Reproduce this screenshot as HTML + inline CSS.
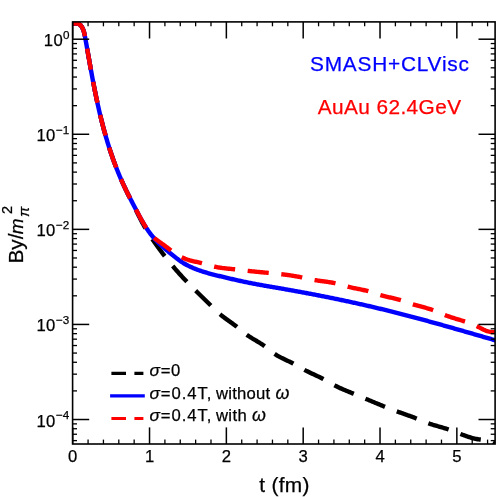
<!DOCTYPE html>
<html><head><meta charset="utf-8"><title>By</title>
<style>
html,body{margin:0;padding:0;background:#fff;}
svg{display:block;will-change:transform;}
text{font-family:"Liberation Sans",sans-serif;fill:#000;stroke:#000;stroke-width:0.25px;}
.tk{font-size:16.67px;}
.sp{font-size:11.67px;}
.ax{font-size:20.83px;}
.lg{font-size:16.67px;}
.mj{stroke:#000;stroke-width:1.5;}
.mn{stroke:#000;stroke-width:1.3;}
.cv{fill:none;stroke-width:4.4;stroke-linejoin:round;stroke-dashoffset:0.6;}
</style></head><body>
<svg width="498" height="497" viewBox="0 0 498 497">
<rect x="0" y="0" width="498" height="497" fill="#fff"/>
<defs><clipPath id="c"><rect x="72.6" y="21.9" width="422.5" height="422.1"/></clipPath></defs>
<g clip-path="url(#c)">
<path class="cv" stroke="#000" stroke-dasharray="21.2 12.6" d="M72.48,23.82 L73.49,23.60 L74.53,23.46 L75.58,23.42 L76.63,23.48 L77.63,23.66 L78.58,23.95 L79.46,24.37 L80.23,24.93 L80.91,25.61 L81.50,26.37 L82.02,27.20 L82.48,28.07 L82.90,28.96 L83.27,29.87 L83.60,30.80 L83.89,31.74 L84.16,32.69 L84.39,33.65 L84.61,34.63 L84.81,35.61 L85.00,36.59 L85.18,37.58 L85.36,38.56 L85.54,39.55 L85.71,40.54 L85.89,41.53 L86.06,42.51 L86.24,43.50 L86.41,44.48 L86.59,45.47 L86.76,46.45 L86.94,47.44 L87.11,48.42 L87.29,49.41 L87.46,50.39 L87.63,51.38 L87.81,52.36 L87.98,53.34 L88.15,54.33 L88.33,55.31 L88.50,56.29 L88.67,57.27 L88.85,58.25 L89.02,59.24 L89.20,60.22 L89.37,61.20 L89.54,62.18 L89.72,63.16 L89.89,64.14 L90.07,65.12 L90.25,66.10 L90.42,67.08 L90.60,68.06 L90.78,69.04 L90.95,70.02 L91.13,71.00 L91.31,71.97 L91.49,72.95 L91.67,73.93 L91.85,74.91 L92.03,75.89 L92.21,76.86 L92.39,77.84 L92.58,78.82 L92.76,79.79 L92.95,80.77 L93.13,81.75 L93.32,82.72 L93.50,83.70 L93.69,84.68 L93.88,85.65 L94.07,86.63 L94.26,87.60 L94.46,88.58 L94.65,89.55 L94.84,90.53 L95.04,91.50 L95.24,92.48 L95.43,93.45 L95.63,94.43 L95.83,95.40 L96.04,96.38 L96.24,97.35 L96.44,98.32 L96.65,99.30 L96.86,100.27 L97.06,101.25 L97.28,102.22 L97.49,103.19 L97.70,104.17 L97.91,105.14 L98.13,106.11 L98.35,107.08 L98.57,108.06 L98.79,109.03 L99.01,110.00 L99.24,110.97 L99.46,111.94 L99.69,112.92 L99.92,113.89 L100.15,114.86 L100.38,115.83 L100.62,116.80 L100.85,117.77 L101.09,118.74 L101.33,119.70 L101.57,120.67 L101.82,121.64 L102.06,122.61 L102.31,123.57 L102.56,124.54 L102.81,125.51 L103.07,126.47 L103.32,127.44 L103.58,128.40 L103.84,129.36 L104.10,130.33 L104.36,131.29 L104.63,132.25 L104.90,133.21 L105.17,134.17 L105.44,135.13 L105.71,136.09 L105.99,137.05 L106.27,138.01 L106.55,138.97 L106.83,139.92 L107.12,140.88 L107.40,141.84 L107.69,142.79 L107.99,143.74 L108.28,144.70 L108.58,145.65 L108.88,146.60 L109.18,147.55 L109.48,148.50 L109.79,149.45 L110.10,150.39 L110.41,151.34 L110.73,152.29 L111.04,153.23 L111.36,154.18 L111.68,155.12 L112.01,156.06 L112.33,157.00 L112.66,157.94 L113.00,158.88 L113.33,159.82 L113.67,160.75 L114.01,161.69 L114.35,162.62 L114.70,163.56 L115.05,164.49 L115.40,165.42 L115.75,166.35 L116.11,167.28 L116.47,168.21 L116.83,169.13 L117.20,170.06 L117.57,170.98 L117.94,171.91 L118.31,172.83 L118.69,173.75 L119.07,174.67 L119.45,175.58 L119.84,176.50 L120.23,177.41 L120.62,178.33 L121.02,179.24 L121.42,180.15 L121.82,181.06 L122.22,181.97 L122.63,182.87 L123.04,183.78 L123.46,184.68 L123.88,185.58 L124.30,186.49 L124.72,187.38 L125.15,188.28 L125.58,189.18 L126.01,190.08 L126.44,190.97 L126.88,191.86 L127.32,192.76 L127.76,193.65 L128.21,194.54 L128.65,195.43 L129.10,196.32 L129.55,197.21 L130.00,198.10 L130.46,198.98 L130.91,199.87 L131.37,200.76 L131.83,201.64 L132.29,202.53 L132.75,203.42 L133.21,204.30 L133.67,205.19 L134.14,206.07 L134.60,206.96 L135.06,207.85 L135.53,208.73 L136.00,209.62 L136.24,210.60 L136.71,211.57 L137.18,212.54 L137.65,213.51 L138.12,214.48 L138.60,215.44 L139.08,216.40 L139.56,217.37 L140.04,218.33 L140.53,219.28 L141.03,220.24 L141.53,221.19 L142.03,222.14 L142.54,223.08 L143.05,224.02 L143.57,224.96 L144.10,225.90 L144.63,226.83 L145.17,227.76 L145.72,228.68 L146.27,229.60 L146.83,230.51 L147.39,231.43 L147.96,232.34 L148.53,233.24 L149.11,234.15 L149.69,235.05 L150.27,235.95 L150.86,236.85 L151.46,237.74 L152.06,238.63 L152.66,239.52 L153.26,240.41 L153.87,241.30 L154.48,242.18 L155.09,243.06 L155.71,243.95 L156.33,244.82 L156.95,245.70 L157.58,246.58 L158.20,247.45 L158.84,248.32 L159.47,249.19 L160.11,250.06 L160.75,250.92 L161.39,251.78 L162.04,252.64 L162.69,253.50 L163.34,254.36 L164.00,255.21 L164.66,256.06 L165.32,256.91 L165.98,257.76 L166.65,258.61 L167.32,259.45 L168.00,260.29 L168.67,261.13 L169.35,261.97 L170.03,262.80 L170.72,263.63 L171.40,264.46 L172.09,265.29 L172.78,266.11 L173.48,266.94 L174.18,267.76 L174.88,268.57 L175.58,269.39 L176.29,270.20 L177.00,271.01 L177.71,271.82 L178.42,272.63 L179.14,273.43 L179.86,274.23 L180.58,275.03 L181.30,275.82 L182.03,276.62 L182.76,277.41 L183.49,278.19 L184.22,278.98 L184.96,279.76 L185.70,280.54 L186.44,281.32 L187.18,282.09 L187.93,282.87 L188.68,283.64 L189.43,284.40 L190.18,285.17 L190.94,285.93 L191.69,286.69 L192.45,287.45 L193.21,288.21 L193.97,288.97 L194.73,289.72 L195.50,290.48 L196.26,291.23 L197.02,291.99 L197.79,292.74 L198.56,293.49 L199.32,294.24 L200.09,294.99 L200.86,295.74 L201.63,296.49 L202.40,297.24 L203.17,298.00 L203.93,298.75 L204.70,299.50 L205.47,300.25 L206.24,301.01 L207.01,301.76 L207.77,302.52 L208.54,303.27 L209.30,304.03 L210.07,304.79 L210.83,305.56 L211.59,306.32 L212.35,307.08 L213.12,307.84 L213.88,308.60 L214.65,309.35 L215.43,310.10 L216.21,310.85 L216.99,311.58 L217.78,312.31 L218.58,313.03 L219.39,313.73 L220.21,314.42 L221.04,315.10 L221.88,315.77 L222.73,316.43 L223.58,317.09 L224.44,317.73 L225.30,318.37 L226.17,319.00 L227.04,319.63 L227.92,320.25 L228.79,320.88 L229.67,321.50 L230.54,322.12 L231.42,322.75 L232.29,323.38 L233.16,324.01 L234.03,324.65 L234.89,325.30 L235.74,325.95 L236.59,326.61 L237.43,327.29 L238.26,327.97 L239.09,328.65 L239.92,329.34 L240.75,330.03 L241.57,330.72 L242.40,331.41 L243.24,332.09 L244.07,332.77 L244.92,333.43 L245.77,334.08 L246.64,334.72 L247.51,335.34 L248.40,335.94 L249.29,336.53 L250.20,337.11 L251.11,337.68 L252.02,338.25 L252.94,338.80 L253.87,339.36 L254.79,339.90 L255.72,340.45 L256.65,341.00 L257.57,341.55 L258.50,342.11 L259.42,342.67 L260.33,343.24 L261.24,343.82 L262.14,344.41 L263.03,345.01 L263.91,345.62 L264.78,346.26 L265.64,346.91 L266.49,347.57 L267.34,348.23 L268.18,348.91 L269.01,349.59 L269.85,350.26 L270.69,350.94 L271.54,351.60 L272.39,352.26 L273.25,352.90 L274.12,353.53 L275.00,354.13 L275.90,354.72 L276.81,355.28 L277.73,355.82 L278.66,356.35 L279.60,356.87 L280.55,357.37 L281.51,357.86 L282.47,358.34 L283.44,358.81 L284.41,359.28 L285.38,359.74 L286.36,360.21 L287.34,360.67 L288.31,361.13 L289.29,361.60 L290.26,362.07 L291.23,362.55 L292.19,363.03 L293.14,363.53 L294.09,364.04 L295.04,364.56 L295.97,365.09 L296.91,365.62 L297.84,366.15 L298.77,366.69 L299.70,367.23 L300.64,367.77 L301.57,368.30 L302.51,368.82 L303.45,369.34 L304.39,369.85 L305.34,370.35 L306.30,370.84 L307.26,371.32 L308.22,371.80 L309.19,372.26 L310.16,372.73 L311.14,373.19 L312.11,373.64 L313.08,374.10 L314.06,374.55 L315.04,375.00 L316.01,375.46 L316.98,375.92 L317.96,376.38 L318.92,376.85 L319.89,377.32 L320.85,377.80 L321.81,378.29 L322.76,378.79 L323.71,379.30 L324.65,379.82 L325.59,380.34 L326.53,380.87 L327.47,381.40 L328.40,381.94 L329.33,382.47 L330.27,383.01 L331.20,383.53 L332.14,384.06 L333.08,384.58 L334.03,385.08 L334.98,385.58 L335.94,386.07 L336.90,386.55 L337.87,387.02 L338.84,387.48 L339.81,387.93 L340.79,388.37 L341.77,388.81 L342.75,389.24 L343.74,389.67 L344.73,390.09 L345.72,390.51 L346.72,390.92 L347.71,391.33 L348.71,391.74 L349.70,392.15 L350.70,392.56 L351.70,392.96 L352.69,393.37 L353.69,393.78 L354.69,394.19 L355.68,394.60 L356.68,395.01 L357.67,395.42 L358.66,395.83 L359.66,396.25 L360.65,396.66 L361.64,397.08 L362.63,397.49 L363.63,397.91 L364.62,398.33 L365.61,398.75 L366.60,399.16 L367.59,399.58 L368.58,400.00 L369.57,400.42 L370.56,400.83 L371.56,401.25 L372.55,401.67 L373.54,402.08 L374.53,402.50 L375.52,402.91 L376.51,403.33 L377.51,403.74 L378.50,404.15 L379.49,404.56 L380.49,404.97 L381.48,405.38 L382.48,405.78 L383.47,406.19 L384.47,406.59 L385.46,406.99 L386.46,407.39 L387.46,407.78 L388.46,408.17 L389.46,408.57 L390.46,408.95 L391.47,409.34 L392.47,409.72 L393.47,410.10 L394.48,410.48 L395.49,410.86 L396.49,411.23 L397.50,411.59 L398.51,411.96 L399.53,412.32 L400.54,412.68 L401.55,413.04 L402.57,413.40 L403.58,413.76 L404.59,414.12 L405.61,414.48 L406.62,414.84 L407.63,415.20 L408.64,415.56 L409.65,415.93 L410.66,416.30 L411.67,416.67 L412.68,417.05 L413.68,417.43 L414.69,417.81 L415.69,418.21 L416.69,418.61 L417.68,419.01 L418.68,419.42 L419.67,419.83 L420.67,420.24 L421.66,420.65 L422.65,421.06 L423.65,421.47 L424.65,421.87 L425.65,422.26 L426.65,422.65 L427.66,423.02 L428.67,423.39 L429.68,423.74 L430.70,424.08 L431.72,424.41 L432.75,424.73 L433.77,425.05 L434.80,425.36 L435.84,425.66 L436.87,425.96 L437.90,426.26 L438.94,426.55 L439.97,426.85 L441.01,427.15 L442.04,427.44 L443.07,427.75 L444.10,428.05 L445.13,428.37 L446.16,428.68 L447.19,429.01 L448.21,429.35 L449.22,429.69 L450.24,430.05 L451.25,430.42 L452.26,430.79 L453.26,431.17 L454.27,431.55 L455.27,431.94 L456.27,432.33 L457.27,432.73 L458.28,433.12 L459.28,433.51 L460.28,433.90 L461.28,434.29 L462.28,434.68 L463.29,435.06 L464.30,435.43 L465.31,435.80 L466.32,436.16 L467.34,436.51 L468.35,436.84 L469.38,437.17 L470.41,437.48 L471.44,437.78 L472.48,438.06 L473.52,438.33 L474.57,438.58 L475.62,438.81 L476.68,439.02 L477.75,439.21 L478.83,439.38 L479.91,439.52 L481.01,439.64 L482.11,439.74 L483.21,439.83 L484.31,439.92 L485.41,440.02 L486.51,440.13 L487.59,440.27 L488.66,440.46 L489.72,440.69 L490.75,440.99 L491.76,441.35 L492.74,441.79 L493.70,442.32 L494.62,442.96 L495.50,443.70"/>
<path class="cv" stroke="#0000ff" d="M72.48,23.82 L73.49,23.60 L74.53,23.46 L75.58,23.42 L76.63,23.48 L77.63,23.66 L78.58,23.95 L79.46,24.37 L80.23,24.93 L80.91,25.61 L81.50,26.37 L82.02,27.20 L82.48,28.07 L82.90,28.96 L83.27,29.87 L83.60,30.80 L83.89,31.74 L84.16,32.69 L84.39,33.65 L84.61,34.63 L84.81,35.61 L85.00,36.59 L85.18,37.58 L85.36,38.56 L85.54,39.55 L85.71,40.54 L85.89,41.53 L86.06,42.51 L86.24,43.50 L86.41,44.48 L86.59,45.47 L86.76,46.45 L86.94,47.44 L87.11,48.42 L87.29,49.41 L87.46,50.39 L87.63,51.38 L87.81,52.36 L87.98,53.34 L88.15,54.33 L88.33,55.31 L88.50,56.29 L88.67,57.27 L88.85,58.25 L89.02,59.24 L89.20,60.22 L89.37,61.20 L89.54,62.18 L89.72,63.16 L89.89,64.14 L90.07,65.12 L90.25,66.10 L90.42,67.08 L90.60,68.06 L90.78,69.04 L90.95,70.02 L91.13,71.00 L91.31,71.97 L91.49,72.95 L91.67,73.93 L91.85,74.91 L92.03,75.89 L92.21,76.86 L92.39,77.84 L92.58,78.82 L92.76,79.79 L92.95,80.77 L93.13,81.75 L93.32,82.72 L93.50,83.70 L93.69,84.68 L93.88,85.65 L94.07,86.63 L94.26,87.60 L94.46,88.58 L94.65,89.55 L94.84,90.53 L95.04,91.50 L95.24,92.48 L95.43,93.45 L95.63,94.43 L95.83,95.40 L96.04,96.38 L96.24,97.35 L96.44,98.32 L96.65,99.30 L96.86,100.27 L97.06,101.25 L97.28,102.22 L97.49,103.19 L97.70,104.17 L97.91,105.14 L98.13,106.11 L98.35,107.08 L98.57,108.06 L98.79,109.03 L99.01,110.00 L99.24,110.97 L99.46,111.94 L99.69,112.92 L99.92,113.89 L100.15,114.86 L100.38,115.83 L100.62,116.80 L100.85,117.77 L101.09,118.74 L101.33,119.70 L101.57,120.67 L101.82,121.64 L102.06,122.61 L102.31,123.57 L102.56,124.54 L102.81,125.51 L103.07,126.47 L103.32,127.44 L103.58,128.40 L103.84,129.36 L104.10,130.33 L104.36,131.29 L104.63,132.25 L104.90,133.21 L105.17,134.17 L105.44,135.13 L105.71,136.09 L105.99,137.05 L106.27,138.01 L106.55,138.97 L106.83,139.92 L107.12,140.88 L107.40,141.84 L107.69,142.79 L107.99,143.74 L108.28,144.70 L108.58,145.65 L108.88,146.60 L109.18,147.55 L109.48,148.50 L109.79,149.45 L110.10,150.39 L110.41,151.34 L110.73,152.29 L111.04,153.23 L111.36,154.18 L111.68,155.12 L112.01,156.06 L112.33,157.00 L112.66,157.94 L113.00,158.88 L113.33,159.82 L113.67,160.75 L114.01,161.69 L114.35,162.62 L114.70,163.56 L115.05,164.49 L115.40,165.42 L115.75,166.35 L116.11,167.28 L116.47,168.21 L116.83,169.13 L117.20,170.06 L117.57,170.98 L117.94,171.91 L118.31,172.83 L118.69,173.75 L119.07,174.67 L119.45,175.58 L119.84,176.50 L120.23,177.41 L120.62,178.33 L121.02,179.24 L121.42,180.15 L121.82,181.06 L122.22,181.97 L122.63,182.87 L123.04,183.78 L123.46,184.68 L123.88,185.58 L124.30,186.49 L124.72,187.38 L125.15,188.28 L125.58,189.18 L126.01,190.08 L126.44,190.97 L126.88,191.86 L127.32,192.76 L127.76,193.65 L128.21,194.54 L128.65,195.43 L129.10,196.32 L129.55,197.21 L130.00,198.10 L130.46,198.98 L130.91,199.87 L131.37,200.76 L131.83,201.64 L132.29,202.53 L132.75,203.42 L133.21,204.30 L133.67,205.19 L134.14,206.07 L134.60,206.96 L135.06,207.85 L135.53,208.73 L136.00,209.62 L136.46,210.50 L136.93,211.39 L137.40,212.28 L137.87,213.16 L138.34,214.05 L138.81,214.94 L139.28,215.82 L139.76,216.70 L140.24,217.58 L140.72,218.46 L141.20,219.34 L141.69,220.21 L142.19,221.08 L142.68,221.95 L143.18,222.81 L143.69,223.67 L144.20,224.53 L144.72,225.38 L145.25,226.23 L145.78,227.07 L146.31,227.91 L146.86,228.74 L147.41,229.56 L147.97,230.38 L148.53,231.19 L149.11,232.00 L149.69,232.80 L150.28,233.59 L150.88,234.38 L151.50,235.15 L152.12,235.92 L152.75,236.68 L153.39,237.44 L154.04,238.18 L154.70,238.92 L155.37,239.64 L156.05,240.37 L156.73,241.08 L157.43,241.79 L158.13,242.49 L158.84,243.19 L159.55,243.88 L160.28,244.56 L161.01,245.24 L161.74,245.91 L162.48,246.58 L163.23,247.25 L163.98,247.91 L164.73,248.57 L165.49,249.22 L166.26,249.87 L167.02,250.52 L167.79,251.17 L168.57,251.81 L169.34,252.45 L170.12,253.09 L170.90,253.73 L171.68,254.36 L172.46,255.00 L173.24,255.63 L174.02,256.26 L174.81,256.89 L175.60,257.52 L176.39,258.14 L177.18,258.75 L177.98,259.36 L178.78,259.95 L179.59,260.54 L180.41,261.11 L181.23,261.67 L182.06,262.22 L182.89,262.75 L183.74,263.27 L184.59,263.77 L185.45,264.26 L186.31,264.74 L187.18,265.21 L188.06,265.67 L188.94,266.11 L189.83,266.54 L190.72,266.96 L191.62,267.37 L192.52,267.77 L193.43,268.16 L194.34,268.54 L195.26,268.91 L196.18,269.27 L197.11,269.62 L198.04,269.96 L198.98,270.30 L199.92,270.63 L200.86,270.95 L201.80,271.26 L202.75,271.56 L203.70,271.86 L204.66,272.16 L205.61,272.44 L206.57,272.72 L207.54,273.00 L208.50,273.27 L209.46,273.54 L210.43,273.80 L211.40,274.06 L212.37,274.31 L213.34,274.56 L214.31,274.81 L215.28,275.05 L216.25,275.30 L217.23,275.54 L218.20,275.78 L219.17,276.01 L220.15,276.25 L221.12,276.48 L222.09,276.72 L223.06,276.95 L224.03,277.19 L225.00,277.42 L225.97,277.65 L226.94,277.88 L227.91,278.11 L228.88,278.34 L229.85,278.56 L230.82,278.79 L231.79,279.01 L232.76,279.24 L233.73,279.46 L234.70,279.68 L235.67,279.90 L236.64,280.12 L237.61,280.34 L238.58,280.55 L239.55,280.76 L240.52,280.98 L241.49,281.19 L242.46,281.40 L243.43,281.60 L244.40,281.81 L245.37,282.01 L246.34,282.22 L247.32,282.42 L248.29,282.61 L249.26,282.81 L250.24,283.01 L251.21,283.20 L252.19,283.39 L253.16,283.58 L254.14,283.76 L255.12,283.95 L256.10,284.13 L257.07,284.31 L258.05,284.50 L259.03,284.67 L260.01,284.85 L260.99,285.03 L261.97,285.21 L262.95,285.38 L263.93,285.55 L264.92,285.73 L265.90,285.90 L266.88,286.07 L267.86,286.24 L268.84,286.41 L269.83,286.58 L270.81,286.75 L271.79,286.92 L272.78,287.09 L273.76,287.26 L274.74,287.42 L275.72,287.59 L276.71,287.76 L277.69,287.93 L278.67,288.10 L279.66,288.27 L280.64,288.44 L281.62,288.61 L282.60,288.78 L283.59,288.95 L284.57,289.12 L285.55,289.30 L286.53,289.47 L287.52,289.64 L288.50,289.82 L289.48,289.99 L290.46,290.16 L291.44,290.34 L292.43,290.52 L293.41,290.69 L294.39,290.87 L295.37,291.05 L296.35,291.22 L297.33,291.40 L298.31,291.58 L299.29,291.76 L300.27,291.94 L301.25,292.12 L302.23,292.30 L303.22,292.48 L304.20,292.67 L305.18,292.85 L306.16,293.03 L307.13,293.22 L308.11,293.40 L309.09,293.59 L310.07,293.77 L311.05,293.96 L312.03,294.14 L313.01,294.33 L313.99,294.52 L314.97,294.71 L315.95,294.90 L316.93,295.09 L317.90,295.28 L318.88,295.47 L319.86,295.66 L320.84,295.85 L321.82,296.04 L322.79,296.24 L323.77,296.43 L324.75,296.62 L325.73,296.82 L326.70,297.01 L327.68,297.21 L328.66,297.41 L329.63,297.60 L330.61,297.80 L331.59,298.00 L332.56,298.20 L333.54,298.40 L334.52,298.60 L335.49,298.80 L336.47,299.00 L337.44,299.20 L338.42,299.41 L339.39,299.61 L340.37,299.81 L341.34,300.02 L342.32,300.22 L343.29,300.43 L344.27,300.64 L345.24,300.84 L346.22,301.05 L347.19,301.26 L348.16,301.47 L349.14,301.68 L350.11,301.89 L351.08,302.10 L352.06,302.31 L353.03,302.53 L354.00,302.74 L354.98,302.95 L355.95,303.17 L356.92,303.38 L357.89,303.60 L358.87,303.82 L359.84,304.03 L360.81,304.25 L361.78,304.47 L362.75,304.69 L363.73,304.91 L364.70,305.13 L365.67,305.35 L366.64,305.57 L367.61,305.80 L368.58,306.02 L369.55,306.24 L370.52,306.47 L371.49,306.70 L372.46,306.92 L373.43,307.15 L374.40,307.38 L375.37,307.61 L376.34,307.83 L377.31,308.06 L378.28,308.30 L379.25,308.53 L380.21,308.76 L381.18,308.99 L382.15,309.23 L383.12,309.46 L384.09,309.69 L385.05,309.93 L386.02,310.17 L386.99,310.40 L387.96,310.64 L388.92,310.88 L389.89,311.12 L390.86,311.36 L391.82,311.60 L392.79,311.84 L393.76,312.09 L394.72,312.33 L395.69,312.58 L396.65,312.82 L397.62,313.07 L398.58,313.31 L399.55,313.56 L400.51,313.81 L401.48,314.05 L402.44,314.30 L403.41,314.55 L404.37,314.80 L405.34,315.05 L406.30,315.31 L407.26,315.56 L408.23,315.81 L409.19,316.06 L410.15,316.32 L411.12,316.57 L412.08,316.83 L413.04,317.08 L414.01,317.34 L414.97,317.60 L415.93,317.85 L416.89,318.11 L417.86,318.37 L418.82,318.63 L419.78,318.89 L420.74,319.15 L421.70,319.41 L422.66,319.67 L423.63,319.93 L424.59,320.19 L425.55,320.46 L426.51,320.72 L427.47,320.98 L428.43,321.25 L429.39,321.51 L430.35,321.78 L431.31,322.04 L432.27,322.31 L433.23,322.57 L434.20,322.84 L435.16,323.11 L436.12,323.37 L437.08,323.64 L438.03,323.91 L438.99,324.18 L439.95,324.45 L440.91,324.71 L441.87,324.98 L442.83,325.25 L443.79,325.52 L444.75,325.79 L445.71,326.06 L446.67,326.33 L447.63,326.61 L448.59,326.88 L449.55,327.15 L450.50,327.42 L451.46,327.69 L452.42,327.97 L453.38,328.24 L454.34,328.51 L455.30,328.78 L456.26,329.06 L457.21,329.33 L458.17,329.61 L459.13,329.88 L460.09,330.15 L461.05,330.43 L462.00,330.70 L462.96,330.98 L463.92,331.25 L464.88,331.53 L465.84,331.80 L466.79,332.08 L467.75,332.35 L468.71,332.63 L469.67,332.90 L470.62,333.18 L471.58,333.46 L472.54,333.73 L473.50,334.01 L474.45,334.28 L475.41,334.56 L476.37,334.83 L477.33,335.11 L478.28,335.39 L479.24,335.66 L480.20,335.94 L481.15,336.22 L482.11,336.49 L483.07,336.77 L484.03,337.04 L484.98,337.32 L485.94,337.60 L486.90,337.87 L487.85,338.15 L488.81,338.42 L489.77,338.70 L490.73,338.98 L491.68,339.25 L492.64,339.53 L493.60,339.80 L494.55,340.08 L495.51,340.35"/>
<path class="cv" stroke="#ff0000" stroke-dasharray="21.2 12.6" d="M72.48,23.82 L73.49,23.60 L74.53,23.46 L75.58,23.42 L76.63,23.48 L77.63,23.66 L78.58,23.95 L79.46,24.37 L80.23,24.93 L80.91,25.61 L81.50,26.37 L82.02,27.20 L82.48,28.07 L82.90,28.96 L83.27,29.87 L83.60,30.80 L83.89,31.74 L84.16,32.69 L84.39,33.65 L84.61,34.63 L84.81,35.61 L85.00,36.59 L85.18,37.58 L85.36,38.56 L85.54,39.55 L85.71,40.54 L85.89,41.53 L86.06,42.51 L86.24,43.50 L86.41,44.48 L86.59,45.47 L86.76,46.45 L86.94,47.44 L87.11,48.42 L87.29,49.41 L87.46,50.39 L87.63,51.38 L87.81,52.36 L87.98,53.34 L88.15,54.33 L88.33,55.31 L88.50,56.29 L88.67,57.27 L88.85,58.25 L89.02,59.24 L89.20,60.22 L89.37,61.20 L89.54,62.18 L89.72,63.16 L89.89,64.14 L90.07,65.12 L90.25,66.10 L90.42,67.08 L90.60,68.06 L90.78,69.04 L90.95,70.02 L91.13,71.00 L91.31,71.97 L91.49,72.95 L91.67,73.93 L91.85,74.91 L92.03,75.89 L92.21,76.86 L92.39,77.84 L92.58,78.82 L92.76,79.79 L92.95,80.77 L93.13,81.75 L93.32,82.72 L93.50,83.70 L93.69,84.68 L93.88,85.65 L94.07,86.63 L94.26,87.60 L94.46,88.58 L94.65,89.55 L94.84,90.53 L95.04,91.50 L95.24,92.48 L95.43,93.45 L95.63,94.43 L95.83,95.40 L96.04,96.38 L96.24,97.35 L96.44,98.32 L96.65,99.30 L96.86,100.27 L97.06,101.25 L97.28,102.22 L97.49,103.19 L97.70,104.17 L97.91,105.14 L98.13,106.11 L98.35,107.08 L98.57,108.06 L98.79,109.03 L99.01,110.00 L99.24,110.97 L99.46,111.94 L99.69,112.92 L99.92,113.89 L100.15,114.86 L100.38,115.83 L100.62,116.80 L100.85,117.77 L101.09,118.74 L101.33,119.70 L101.57,120.67 L101.82,121.64 L102.06,122.61 L102.31,123.57 L102.56,124.54 L102.81,125.51 L103.07,126.47 L103.32,127.44 L103.58,128.40 L103.84,129.36 L104.10,130.33 L104.36,131.29 L104.63,132.25 L104.90,133.21 L105.17,134.17 L105.44,135.13 L105.71,136.09 L105.99,137.05 L106.27,138.01 L106.55,138.97 L106.83,139.92 L107.12,140.88 L107.40,141.84 L107.69,142.79 L107.99,143.74 L108.28,144.70 L108.58,145.65 L108.88,146.60 L109.18,147.55 L109.48,148.50 L109.79,149.45 L110.10,150.39 L110.41,151.34 L110.73,152.29 L111.04,153.23 L111.36,154.18 L111.68,155.12 L112.01,156.06 L112.33,157.00 L112.66,157.94 L113.00,158.88 L113.33,159.82 L113.67,160.75 L114.01,161.69 L114.35,162.62 L114.70,163.56 L115.05,164.49 L115.40,165.42 L115.75,166.35 L116.11,167.28 L116.47,168.21 L116.83,169.13 L117.20,170.06 L117.57,170.98 L117.94,171.91 L118.31,172.83 L118.69,173.75 L119.07,174.67 L119.45,175.58 L119.84,176.50 L120.23,177.41 L120.62,178.33 L121.02,179.24 L121.42,180.15 L121.82,181.06 L122.22,181.97 L122.63,182.87 L123.04,183.78 L123.46,184.68 L123.88,185.58 L124.30,186.49 L124.72,187.38 L125.15,188.28 L125.58,189.18 L126.01,190.08 L126.44,190.97 L126.88,191.86 L127.32,192.76 L127.76,193.65 L128.21,194.54 L128.65,195.43 L129.10,196.32 L129.55,197.21 L130.00,198.10 L130.46,198.98 L130.91,199.87 L131.37,200.76 L131.83,201.64 L132.29,202.53 L132.75,203.42 L133.21,204.30 L133.67,205.19 L134.14,206.07 L134.60,206.96 L135.06,207.85 L135.53,208.73 L136.00,209.62 L136.46,210.50 L136.93,211.39 L137.40,212.28 L137.87,213.16 L138.34,214.05 L138.81,214.94 L139.28,215.82 L139.76,216.70 L140.24,217.58 L140.72,218.46 L141.20,219.34 L141.69,220.21 L142.19,221.08 L142.68,221.95 L143.18,222.81 L143.69,223.67 L144.20,224.53 L144.72,225.38 L145.25,226.23 L145.78,227.07 L146.31,227.91 L146.86,228.74 L147.16,229.47 L147.71,230.30 L148.27,231.13 L148.84,231.94 L149.43,232.73 L150.03,233.52 L150.65,234.28 L151.30,235.03 L151.96,235.75 L152.64,236.46 L153.34,237.14 L154.07,237.80 L154.81,238.44 L155.57,239.06 L156.35,239.67 L157.13,240.26 L157.93,240.84 L158.74,241.42 L159.56,241.98 L160.37,242.55 L161.19,243.12 L162.01,243.69 L162.82,244.26 L163.62,244.85 L164.42,245.44 L165.22,246.04 L166.02,246.64 L166.81,247.24 L167.60,247.85 L168.39,248.45 L169.18,249.06 L169.97,249.66 L170.76,250.26 L171.56,250.85 L172.36,251.44 L173.16,252.02 L173.97,252.59 L174.78,253.15 L175.61,253.70 L176.44,254.23 L177.28,254.75 L178.12,255.26 L178.98,255.75 L179.84,256.23 L180.71,256.69 L181.59,257.14 L182.48,257.57 L183.38,257.98 L184.28,258.38 L185.19,258.76 L186.11,259.12 L187.03,259.46 L187.97,259.78 L188.91,260.08 L189.86,260.37 L190.81,260.63 L191.77,260.88 L192.74,261.11 L193.71,261.33 L194.68,261.54 L195.65,261.75 L196.63,261.96 L197.60,262.17 L198.57,262.38 L199.54,262.61 L200.51,262.84 L201.47,263.09 L202.43,263.34 L203.39,263.61 L204.35,263.88 L205.30,264.15 L206.25,264.43 L207.20,264.71 L208.15,264.98 L209.10,265.26 L210.05,265.53 L211.01,265.79 L211.96,266.05 L212.92,266.29 L213.88,266.52 L214.84,266.74 L215.80,266.95 L216.77,267.14 L217.74,267.32 L218.72,267.49 L219.69,267.64 L220.67,267.79 L221.65,267.93 L222.64,268.06 L223.62,268.18 L224.61,268.30 L225.59,268.41 L226.58,268.51 L227.57,268.62 L228.56,268.72 L229.55,268.81 L230.54,268.91 L231.53,269.01 L232.52,269.10 L233.50,269.20 L234.49,269.30 L235.48,269.41 L236.47,269.52 L237.45,269.63 L238.43,269.74 L239.42,269.85 L240.40,269.97 L241.38,270.09 L242.37,270.21 L243.35,270.33 L244.33,270.44 L245.31,270.56 L246.30,270.68 L247.28,270.79 L248.26,270.90 L249.25,271.01 L250.23,271.12 L251.22,271.23 L252.20,271.33 L253.19,271.43 L254.17,271.53 L255.16,271.63 L256.14,271.73 L257.13,271.83 L258.12,271.92 L259.10,272.02 L260.09,272.11 L261.08,272.20 L262.07,272.30 L263.05,272.39 L264.04,272.48 L265.03,272.57 L266.02,272.66 L267.01,272.76 L267.99,272.85 L268.98,272.94 L269.97,273.04 L270.96,273.13 L271.94,273.23 L272.93,273.33 L273.92,273.43 L274.91,273.53 L275.89,273.63 L276.88,273.73 L277.87,273.84 L278.85,273.94 L279.84,274.05 L280.82,274.16 L281.81,274.28 L282.79,274.39 L283.77,274.51 L284.76,274.64 L285.74,274.76 L286.72,274.89 L287.70,275.02 L288.69,275.16 L289.67,275.30 L290.65,275.44 L291.63,275.58 L292.60,275.73 L293.58,275.89 L294.56,276.05 L295.54,276.21 L296.51,276.38 L297.49,276.55 L298.46,276.73 L299.43,276.91 L300.41,277.10 L301.38,277.29 L302.35,277.49 L303.32,277.69 L304.28,277.90 L305.25,278.11 L306.22,278.32 L307.19,278.54 L308.16,278.75 L309.13,278.96 L310.09,279.16 L311.06,279.37 L312.04,279.56 L313.01,279.75 L313.98,279.94 L314.96,280.11 L315.94,280.27 L316.92,280.43 L317.90,280.57 L318.88,280.72 L319.86,280.85 L320.84,280.99 L321.83,281.12 L322.81,281.25 L323.79,281.38 L324.78,281.51 L325.76,281.64 L326.74,281.77 L327.72,281.91 L328.70,282.06 L329.68,282.21 L330.66,282.37 L331.63,282.54 L332.60,282.72 L333.57,282.91 L334.54,283.12 L335.50,283.34 L336.46,283.57 L337.42,283.81 L338.38,284.07 L339.33,284.33 L340.28,284.60 L341.24,284.87 L342.19,285.15 L343.14,285.43 L344.09,285.70 L345.05,285.97 L346.00,286.24 L346.96,286.50 L347.92,286.75 L348.88,286.98 L349.85,287.21 L350.81,287.43 L351.78,287.65 L352.75,287.85 L353.72,288.05 L354.70,288.25 L355.67,288.44 L356.64,288.63 L357.62,288.83 L358.59,289.02 L359.56,289.21 L360.53,289.41 L361.50,289.61 L362.47,289.81 L363.44,290.02 L364.41,290.24 L365.37,290.47 L366.33,290.71 L367.29,290.95 L368.24,291.21 L369.19,291.49 L370.14,291.77 L371.09,292.06 L372.03,292.37 L372.97,292.67 L373.91,292.99 L374.85,293.30 L375.79,293.62 L376.73,293.93 L377.67,294.24 L378.62,294.54 L379.56,294.83 L380.51,295.12 L381.46,295.39 L382.42,295.65 L383.38,295.91 L384.34,296.15 L385.30,296.39 L386.26,296.62 L387.23,296.84 L388.20,297.07 L389.16,297.29 L390.13,297.51 L391.10,297.72 L392.07,297.94 L393.03,298.16 L394.00,298.39 L394.96,298.61 L395.93,298.85 L396.89,299.09 L397.85,299.34 L398.80,299.59 L399.75,299.86 L400.70,300.14 L401.65,300.43 L402.59,300.73 L403.53,301.04 L404.47,301.37 L405.40,301.69 L406.34,302.02 L407.27,302.36 L408.20,302.69 L409.14,303.03 L410.07,303.35 L411.01,303.68 L411.95,304.00 L412.89,304.30 L413.83,304.60 L414.78,304.89 L415.74,305.17 L416.69,305.44 L417.65,305.70 L418.60,305.96 L419.56,306.22 L420.52,306.47 L421.48,306.72 L422.44,306.97 L423.40,307.22 L424.36,307.48 L425.32,307.73 L426.27,308.00 L427.23,308.26 L428.18,308.54 L429.13,308.82 L430.07,309.11 L431.01,309.42 L431.95,309.73 L432.88,310.06 L433.81,310.40 L434.73,310.75 L435.65,311.12 L436.57,311.50 L437.48,311.88 L438.39,312.27 L439.30,312.66 L440.21,313.06 L441.12,313.45 L442.03,313.84 L442.94,314.23 L443.85,314.61 L444.77,314.98 L445.69,315.34 L446.62,315.69 L447.55,316.04 L448.48,316.37 L449.42,316.69 L450.35,317.01 L451.29,317.32 L452.24,317.62 L453.18,317.92 L454.13,318.22 L455.08,318.51 L456.02,318.80 L456.97,319.09 L457.92,319.37 L458.87,319.66 L459.82,319.94 L460.77,320.23 L461.72,320.52 L462.67,320.81 L463.61,321.11 L464.56,321.41 L465.50,321.71 L466.44,322.02 L467.38,322.34 L468.32,322.67 L469.25,323.00 L470.18,323.34 L471.10,323.69 L472.03,324.06 L472.94,324.43 L473.86,324.82 L474.76,325.22 L475.67,325.63 L476.57,326.06 L477.46,326.50 L478.35,326.96 L479.23,327.42 L480.11,327.89 L481.00,328.35 L481.89,328.81 L482.78,329.26 L483.67,329.69 L484.58,330.10 L485.49,330.49 L486.41,330.85 L487.35,331.17 L488.30,331.45 L489.26,331.69 L490.25,331.87 L491.25,332.01 L492.28,332.08 L493.32,332.10 L494.40,332.04 L495.50,331.91"/>
</g>
<g>
<line x1="72.70" y1="444.0" x2="72.70" y2="427.40" class="mj"/>
<line x1="72.70" y1="21.9" x2="72.70" y2="38.50" class="mj"/>
<line x1="149.53" y1="444.0" x2="149.53" y2="427.40" class="mj"/>
<line x1="149.53" y1="21.9" x2="149.53" y2="38.50" class="mj"/>
<line x1="226.36" y1="444.0" x2="226.36" y2="427.40" class="mj"/>
<line x1="226.36" y1="21.9" x2="226.36" y2="38.50" class="mj"/>
<line x1="303.19" y1="444.0" x2="303.19" y2="427.40" class="mj"/>
<line x1="303.19" y1="21.9" x2="303.19" y2="38.50" class="mj"/>
<line x1="380.02" y1="444.0" x2="380.02" y2="427.40" class="mj"/>
<line x1="380.02" y1="21.9" x2="380.02" y2="38.50" class="mj"/>
<line x1="456.85" y1="444.0" x2="456.85" y2="427.40" class="mj"/>
<line x1="456.85" y1="21.9" x2="456.85" y2="38.50" class="mj"/>
<line x1="88.07" y1="444.0" x2="88.07" y2="439.60" class="mn"/>
<line x1="88.07" y1="21.9" x2="88.07" y2="26.30" class="mn"/>
<line x1="103.43" y1="444.0" x2="103.43" y2="439.60" class="mn"/>
<line x1="103.43" y1="21.9" x2="103.43" y2="26.30" class="mn"/>
<line x1="118.80" y1="444.0" x2="118.80" y2="439.60" class="mn"/>
<line x1="118.80" y1="21.9" x2="118.80" y2="26.30" class="mn"/>
<line x1="134.16" y1="444.0" x2="134.16" y2="439.60" class="mn"/>
<line x1="134.16" y1="21.9" x2="134.16" y2="26.30" class="mn"/>
<line x1="164.90" y1="444.0" x2="164.90" y2="439.60" class="mn"/>
<line x1="164.90" y1="21.9" x2="164.90" y2="26.30" class="mn"/>
<line x1="180.26" y1="444.0" x2="180.26" y2="439.60" class="mn"/>
<line x1="180.26" y1="21.9" x2="180.26" y2="26.30" class="mn"/>
<line x1="195.63" y1="444.0" x2="195.63" y2="439.60" class="mn"/>
<line x1="195.63" y1="21.9" x2="195.63" y2="26.30" class="mn"/>
<line x1="210.99" y1="444.0" x2="210.99" y2="439.60" class="mn"/>
<line x1="210.99" y1="21.9" x2="210.99" y2="26.30" class="mn"/>
<line x1="241.73" y1="444.0" x2="241.73" y2="439.60" class="mn"/>
<line x1="241.73" y1="21.9" x2="241.73" y2="26.30" class="mn"/>
<line x1="257.09" y1="444.0" x2="257.09" y2="439.60" class="mn"/>
<line x1="257.09" y1="21.9" x2="257.09" y2="26.30" class="mn"/>
<line x1="272.46" y1="444.0" x2="272.46" y2="439.60" class="mn"/>
<line x1="272.46" y1="21.9" x2="272.46" y2="26.30" class="mn"/>
<line x1="287.82" y1="444.0" x2="287.82" y2="439.60" class="mn"/>
<line x1="287.82" y1="21.9" x2="287.82" y2="26.30" class="mn"/>
<line x1="318.56" y1="444.0" x2="318.56" y2="439.60" class="mn"/>
<line x1="318.56" y1="21.9" x2="318.56" y2="26.30" class="mn"/>
<line x1="333.92" y1="444.0" x2="333.92" y2="439.60" class="mn"/>
<line x1="333.92" y1="21.9" x2="333.92" y2="26.30" class="mn"/>
<line x1="349.29" y1="444.0" x2="349.29" y2="439.60" class="mn"/>
<line x1="349.29" y1="21.9" x2="349.29" y2="26.30" class="mn"/>
<line x1="364.65" y1="444.0" x2="364.65" y2="439.60" class="mn"/>
<line x1="364.65" y1="21.9" x2="364.65" y2="26.30" class="mn"/>
<line x1="395.39" y1="444.0" x2="395.39" y2="439.60" class="mn"/>
<line x1="395.39" y1="21.9" x2="395.39" y2="26.30" class="mn"/>
<line x1="410.75" y1="444.0" x2="410.75" y2="439.60" class="mn"/>
<line x1="410.75" y1="21.9" x2="410.75" y2="26.30" class="mn"/>
<line x1="426.12" y1="444.0" x2="426.12" y2="439.60" class="mn"/>
<line x1="426.12" y1="21.9" x2="426.12" y2="26.30" class="mn"/>
<line x1="441.48" y1="444.0" x2="441.48" y2="439.60" class="mn"/>
<line x1="441.48" y1="21.9" x2="441.48" y2="26.30" class="mn"/>
<line x1="472.22" y1="444.0" x2="472.22" y2="439.60" class="mn"/>
<line x1="472.22" y1="21.9" x2="472.22" y2="26.30" class="mn"/>
<line x1="487.58" y1="444.0" x2="487.58" y2="439.60" class="mn"/>
<line x1="487.58" y1="21.9" x2="487.58" y2="26.30" class="mn"/>
<line x1="72.6" y1="39.20" x2="89.20" y2="39.20" class="mj"/>
<line x1="495.1" y1="39.20" x2="478.50" y2="39.20" class="mj"/>
<line x1="72.6" y1="134.28" x2="89.20" y2="134.28" class="mj"/>
<line x1="495.1" y1="134.28" x2="478.50" y2="134.28" class="mj"/>
<line x1="72.6" y1="229.36" x2="89.20" y2="229.36" class="mj"/>
<line x1="495.1" y1="229.36" x2="478.50" y2="229.36" class="mj"/>
<line x1="72.6" y1="324.44" x2="89.20" y2="324.44" class="mj"/>
<line x1="495.1" y1="324.44" x2="478.50" y2="324.44" class="mj"/>
<line x1="72.6" y1="419.52" x2="89.20" y2="419.52" class="mj"/>
<line x1="495.1" y1="419.52" x2="478.50" y2="419.52" class="mj"/>
<line x1="72.6" y1="105.66" x2="77.00" y2="105.66" class="mn"/>
<line x1="495.1" y1="105.66" x2="490.70" y2="105.66" class="mn"/>
<line x1="72.6" y1="88.92" x2="77.00" y2="88.92" class="mn"/>
<line x1="495.1" y1="88.92" x2="490.70" y2="88.92" class="mn"/>
<line x1="72.6" y1="77.04" x2="77.00" y2="77.04" class="mn"/>
<line x1="495.1" y1="77.04" x2="490.70" y2="77.04" class="mn"/>
<line x1="72.6" y1="67.82" x2="77.00" y2="67.82" class="mn"/>
<line x1="495.1" y1="67.82" x2="490.70" y2="67.82" class="mn"/>
<line x1="72.6" y1="60.29" x2="77.00" y2="60.29" class="mn"/>
<line x1="495.1" y1="60.29" x2="490.70" y2="60.29" class="mn"/>
<line x1="72.6" y1="53.93" x2="77.00" y2="53.93" class="mn"/>
<line x1="495.1" y1="53.93" x2="490.70" y2="53.93" class="mn"/>
<line x1="72.6" y1="48.41" x2="77.00" y2="48.41" class="mn"/>
<line x1="495.1" y1="48.41" x2="490.70" y2="48.41" class="mn"/>
<line x1="72.6" y1="43.55" x2="77.00" y2="43.55" class="mn"/>
<line x1="495.1" y1="43.55" x2="490.70" y2="43.55" class="mn"/>
<line x1="72.6" y1="200.74" x2="77.00" y2="200.74" class="mn"/>
<line x1="495.1" y1="200.74" x2="490.70" y2="200.74" class="mn"/>
<line x1="72.6" y1="184.00" x2="77.00" y2="184.00" class="mn"/>
<line x1="495.1" y1="184.00" x2="490.70" y2="184.00" class="mn"/>
<line x1="72.6" y1="172.12" x2="77.00" y2="172.12" class="mn"/>
<line x1="495.1" y1="172.12" x2="490.70" y2="172.12" class="mn"/>
<line x1="72.6" y1="162.90" x2="77.00" y2="162.90" class="mn"/>
<line x1="495.1" y1="162.90" x2="490.70" y2="162.90" class="mn"/>
<line x1="72.6" y1="155.37" x2="77.00" y2="155.37" class="mn"/>
<line x1="495.1" y1="155.37" x2="490.70" y2="155.37" class="mn"/>
<line x1="72.6" y1="149.01" x2="77.00" y2="149.01" class="mn"/>
<line x1="495.1" y1="149.01" x2="490.70" y2="149.01" class="mn"/>
<line x1="72.6" y1="143.49" x2="77.00" y2="143.49" class="mn"/>
<line x1="495.1" y1="143.49" x2="490.70" y2="143.49" class="mn"/>
<line x1="72.6" y1="138.63" x2="77.00" y2="138.63" class="mn"/>
<line x1="495.1" y1="138.63" x2="490.70" y2="138.63" class="mn"/>
<line x1="72.6" y1="295.82" x2="77.00" y2="295.82" class="mn"/>
<line x1="495.1" y1="295.82" x2="490.70" y2="295.82" class="mn"/>
<line x1="72.6" y1="279.08" x2="77.00" y2="279.08" class="mn"/>
<line x1="495.1" y1="279.08" x2="490.70" y2="279.08" class="mn"/>
<line x1="72.6" y1="267.20" x2="77.00" y2="267.20" class="mn"/>
<line x1="495.1" y1="267.20" x2="490.70" y2="267.20" class="mn"/>
<line x1="72.6" y1="257.98" x2="77.00" y2="257.98" class="mn"/>
<line x1="495.1" y1="257.98" x2="490.70" y2="257.98" class="mn"/>
<line x1="72.6" y1="250.45" x2="77.00" y2="250.45" class="mn"/>
<line x1="495.1" y1="250.45" x2="490.70" y2="250.45" class="mn"/>
<line x1="72.6" y1="244.09" x2="77.00" y2="244.09" class="mn"/>
<line x1="495.1" y1="244.09" x2="490.70" y2="244.09" class="mn"/>
<line x1="72.6" y1="238.57" x2="77.00" y2="238.57" class="mn"/>
<line x1="495.1" y1="238.57" x2="490.70" y2="238.57" class="mn"/>
<line x1="72.6" y1="233.71" x2="77.00" y2="233.71" class="mn"/>
<line x1="495.1" y1="233.71" x2="490.70" y2="233.71" class="mn"/>
<line x1="72.6" y1="390.90" x2="77.00" y2="390.90" class="mn"/>
<line x1="495.1" y1="390.90" x2="490.70" y2="390.90" class="mn"/>
<line x1="72.6" y1="374.16" x2="77.00" y2="374.16" class="mn"/>
<line x1="495.1" y1="374.16" x2="490.70" y2="374.16" class="mn"/>
<line x1="72.6" y1="362.28" x2="77.00" y2="362.28" class="mn"/>
<line x1="495.1" y1="362.28" x2="490.70" y2="362.28" class="mn"/>
<line x1="72.6" y1="353.06" x2="77.00" y2="353.06" class="mn"/>
<line x1="495.1" y1="353.06" x2="490.70" y2="353.06" class="mn"/>
<line x1="72.6" y1="345.53" x2="77.00" y2="345.53" class="mn"/>
<line x1="495.1" y1="345.53" x2="490.70" y2="345.53" class="mn"/>
<line x1="72.6" y1="339.17" x2="77.00" y2="339.17" class="mn"/>
<line x1="495.1" y1="339.17" x2="490.70" y2="339.17" class="mn"/>
<line x1="72.6" y1="333.65" x2="77.00" y2="333.65" class="mn"/>
<line x1="495.1" y1="333.65" x2="490.70" y2="333.65" class="mn"/>
<line x1="72.6" y1="328.79" x2="77.00" y2="328.79" class="mn"/>
<line x1="495.1" y1="328.79" x2="490.70" y2="328.79" class="mn"/>
<line x1="72.6" y1="440.61" x2="77.00" y2="440.61" class="mn"/>
<line x1="495.1" y1="440.61" x2="490.70" y2="440.61" class="mn"/>
<line x1="72.6" y1="434.25" x2="77.00" y2="434.25" class="mn"/>
<line x1="495.1" y1="434.25" x2="490.70" y2="434.25" class="mn"/>
<line x1="72.6" y1="428.73" x2="77.00" y2="428.73" class="mn"/>
<line x1="495.1" y1="428.73" x2="490.70" y2="428.73" class="mn"/>
<line x1="72.6" y1="423.87" x2="77.00" y2="423.87" class="mn"/>
<line x1="495.1" y1="423.87" x2="490.70" y2="423.87" class="mn"/>
</g>
<rect x="72.6" y="21.9" width="422.5" height="422.1" fill="none" stroke="#000" stroke-width="1.6"/>
<g>
<text x="72.70" y="462.3" class="tk" text-anchor="middle">0</text>
<text x="149.53" y="462.3" class="tk" text-anchor="middle">1</text>
<text x="226.36" y="462.3" class="tk" text-anchor="middle">2</text>
<text x="303.19" y="462.3" class="tk" text-anchor="middle">3</text>
<text x="380.02" y="462.3" class="tk" text-anchor="middle">4</text>
<text x="456.85" y="462.3" class="tk" text-anchor="middle">5</text>
<text x="63.0" y="46.20" class="tk" text-anchor="end" style="letter-spacing:0.3px">10</text><text x="63.1" y="39.00" class="sp">0</text>
<text x="55.7" y="141.28" class="tk" text-anchor="end" style="letter-spacing:0.3px">10</text><text x="56.0" y="134.08" class="sp">−1</text>
<text x="55.7" y="236.36" class="tk" text-anchor="end" style="letter-spacing:0.3px">10</text><text x="56.0" y="229.16" class="sp">−2</text>
<text x="55.7" y="331.44" class="tk" text-anchor="end" style="letter-spacing:0.3px">10</text><text x="56.0" y="324.24" class="sp">−3</text>
<text x="55.7" y="426.52" class="tk" text-anchor="end" style="letter-spacing:0.3px">10</text><text x="56.0" y="419.32" class="sp">−4</text>
</g>
<g transform="translate(23.0,263.6) rotate(-90)">
<text x="0" y="0" class="ax">By/</text>
<text x="29.4" y="0" style="font-size:19px;font-style:italic">m</text>
<text x="49.5" y="-11.4" style="font-size:14.58px">2</text>
<text x="46.6" y="6.0" style="font-size:15.3px;font-style:italic">π</text>
</g>
<!-- legend -->
<line x1="111.4" y1="373.3" x2="143.4" y2="373.3" stroke="#000" stroke-width="3.2" stroke-dasharray="14.6 8.4"/>
<line x1="110.1" y1="395.9" x2="144.8" y2="395.9" stroke="#0000ff" stroke-width="3.2"/>
<line x1="111.4" y1="418.5" x2="143.4" y2="418.5" stroke="#ff0000" stroke-width="3.2" stroke-dasharray="14.6 8.4"/>
<text x="149.48" y="376.2" style="font-size:17.3px;font-style:italic;letter-spacing:0.000px;fill:#000;stroke:#000;stroke-width:0.25">σ</text>
<text x="149.48" y="398.7" style="font-size:17.3px;font-style:italic;letter-spacing:0.000px;fill:#000;stroke:#000;stroke-width:0.25">σ</text>
<text x="149.48" y="421.2" style="font-size:17.3px;font-style:italic;letter-spacing:0.000px;fill:#000;stroke:#000;stroke-width:0.25">σ</text>
<text x="160.80" y="376.2" style="font-size:16.67px;;letter-spacing:0.490px;fill:#000;stroke:#000;stroke-width:0.25">=0</text>
<text x="160.80" y="398.7" style="font-size:16.67px;;letter-spacing:0.928px;fill:#000;stroke:#000;stroke-width:0.25">=0.4T,</text>
<text x="160.80" y="421.2" style="font-size:16.67px;;letter-spacing:0.928px;fill:#000;stroke:#000;stroke-width:0.25">=0.4T,</text>
<text x="215.89" y="398.7" style="font-size:16.67px;;letter-spacing:0.262px;fill:#000;stroke:#000;stroke-width:0.25">without</text>
<text x="215.89" y="421.2" style="font-size:16.67px;;letter-spacing:0.393px;fill:#000;stroke:#000;stroke-width:0.25">with</text>
<text x="275.58" y="398.7" style="font-size:17.8px;font-style:italic;letter-spacing:0.000px;fill:#000;stroke:#000;stroke-width:0.25">ω</text>
<text x="252.08" y="421.2" style="font-size:17.8px;font-style:italic;letter-spacing:0.000px;fill:#000;stroke:#000;stroke-width:0.25">ω</text>
<text x="309.97" y="70.9" style="font-size:20.83px;;letter-spacing:0.793px;fill:#0000ff;stroke:#0000ff;stroke-width:0.25">SMASH+CLVisc</text>
<text x="317.73" y="113.6" style="font-size:20.83px;;letter-spacing:0.400px;fill:#ff0000;stroke:#ff0000;stroke-width:0.25">AuAu 62.4GeV</text>
<text x="259.17" y="491.8" style="font-size:20.83px;;letter-spacing:0.354px;fill:#000;stroke:#000;stroke-width:0.25">t (fm)</text>
</svg>
</body></html>
